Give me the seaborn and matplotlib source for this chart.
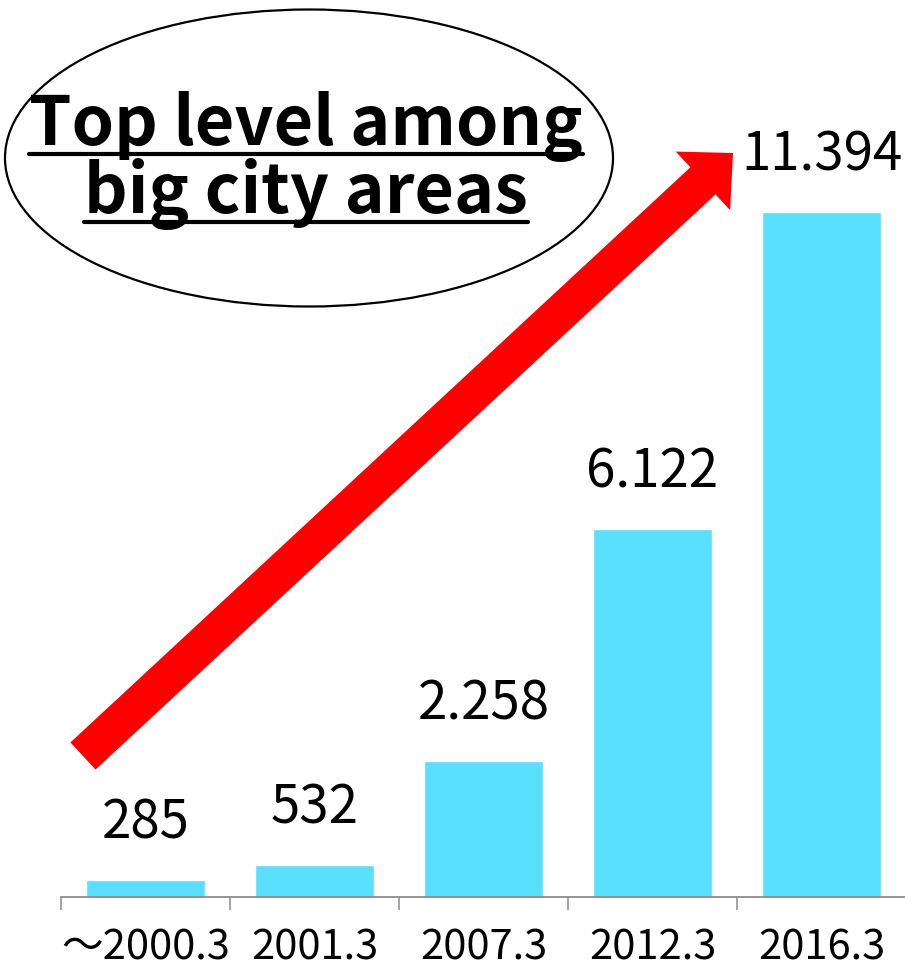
import numpy as np
import pandas as pd
import matplotlib
matplotlib.use("Agg")
import matplotlib.pyplot as plt
import seaborn as sns
from matplotlib.patches import Ellipse, Polygon
from matplotlib.lines import Line2D

categories = ["～2000.3", "2001.3", "2007.3", "2012.3", "2016.3"]
values = [285, 532, 2258, 6122, 11394]
value_labels = ["285", "532", "2.258", "6.122", "11.394"]
title_lines = ["Top level among", "big city areas"]

sns.set_theme(style="white")
plt.rcParams["font.family"] = ["Noto Sans CJK JP", "DejaVu Sans"]

W, H = 905, 975
fig = plt.figure(figsize=(W / 100, H / 100), dpi=100)

def px(x, y):
    return x / W, 1 - y / H

ax_left, ax_right, ax_bottom = 61, 906, 897
ax = fig.add_axes([ax_left / W, 1 - ax_bottom / H, (ax_right - ax_left) / W, ax_bottom / H])

df = pd.DataFrame({"cat": categories, "val": values})
sns.barplot(data=df, x="cat", y="val", color="#59DFFF", saturation=1, width=0.71, ax=ax)

ax.set_xlim(-0.5, 4.5)
ax.set_ylim(0, 14925)
ax.set_xlabel("")
ax.set_ylabel("")
ax.set_yticks([])
for s in ["top", "right", "left"]:
    ax.spines[s].set_visible(False)
ax.spines["bottom"].set_color("#8c8c8c")
ax.spines["bottom"].set_linewidth(1.3)
ax.tick_params(axis="x", which="major", length=0, pad=22, labelsize=30, labelcolor="black")
ax.set_xticks(np.arange(-0.5, 5, 1), minor=True)
ax.tick_params(axis="x", which="minor", bottom=True, length=9.5, width=1.1,
               color="#8c8c8c", direction="out")
ax.set_facecolor("none")

for i, (v, lab) in enumerate(zip(values, value_labels)):
    ax.annotate(lab, (i, v), xytext=(0, 30), textcoords="offset points",
                ha="center", va="baseline", fontsize=38, color="black")

# Red arrow (decoration), pixel geometry
T = np.array([83.0, 756.0])
P = np.array([733.0, 153.0])
w, hw, hl = 37.0, 80.0, 41.0
u = (P - T) / np.linalg.norm(P - T)
n = np.array([-u[1], u[0]])
B = P - u * hl
pts = [T + n * w / 2, B + n * w / 2, B + n * hw / 2, P, B - n * hw / 2, B - n * w / 2, T - n * w / 2]
fig.patches.append(Polygon([px(*p) for p in pts], closed=True, transform=fig.transFigure,
                           facecolor="#FF0000", edgecolor="none", zorder=5))

# Ellipse
cx, cy = 309, 158
ell = Ellipse(px(cx, cy), 608 / W, 297 / H, transform=fig.transFigure,
              facecolor="white", edgecolor="black", linewidth=1.6, zorder=6)
fig.patches.append(ell)

# Title text with underline
baselines = [145, 213]
texts = []
for line, by in zip(title_lines, baselines):
    t = fig.text(*px(306, by), line, ha="center", va="baseline", fontsize=49,
                 fontweight="bold", color="black", zorder=7)
    texts.append(t)

fig.canvas.draw()
r = fig.canvas.get_renderer()
for t, by in zip(texts, baselines):
    bb = t.get_window_extent(r)
    x0, x1 = bb.x0 / W, bb.x1 / W
    yl = 1 - (by + 9) / H
    fig.lines.append(Line2D([x0, x1], [yl, yl], transform=fig.transFigure,
                            color="black", linewidth=3, zorder=7))

fig.savefig("out.png", dpi=100)
